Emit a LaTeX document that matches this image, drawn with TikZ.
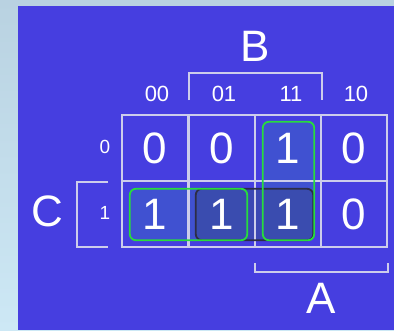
\documentclass[tikz,border=0pt]{standalone}
\usepackage{fontspec}
\setmainfont{Liberation Sans}
\usepackage{tikz}
\usetikzlibrary{positioning,fit}

\definecolor{kback}{RGB}{70,62,224}
\definecolor{kgrid}{RGB}{205,205,235}
\definecolor{kgreen}{RGB}{40,220,60}
\definecolor{kfill}{RGB}{62,88,205}
\definecolor{kdark}{RGB}{45,45,70}

\begin{document}
\begin{tikzpicture}[
  x=1pt, y=-1pt,
  cell/.style={rectangle, draw=kgrid, line width=2.4pt, minimum size=66pt, inner sep=0pt, text=white, font=\fontsize{44}{44}\selectfont},
  collabel/.style={text=white, font=\fontsize{22}{22}\selectfont},
  rowlabel/.style={text=white, font=\fontsize{19}{19}\selectfont},
  varlabel/.style={text=white, font=\fontsize{44}{44}\selectfont},
  bracket/.style={draw=kgrid, line width=2.4pt},
  group/.style={rectangle, rounded corners=6pt, fill=kfill, fill opacity=0.75, inner sep=0pt},
  darkgroup/.style={group, fill=kdark!30!kfill},
  outline/.style={rounded corners=6pt, line width=1.8pt, draw=kgreen},
]
  % background
  \shade[top color={rgb,255:red,185;green,210;blue,225}, bottom color={rgb,255:red,205;green,232;blue,245}] (0,0) rectangle (394,330);
  \fill[kback] (18,6) rectangle (394,330);
  \useasboundingbox (0,0) rectangle (394,330);

  % group fills
  \node[group, minimum width=51pt, minimum height=118pt] (g1) at (288.5,181) {};
  \node[group, minimum width=117pt, minimum height=51pt] (g2) at (188.5,214.5) {};
  \node[darkgroup, minimum width=117pt, minimum height=51pt] (g3) at (254.5,214.5) {};

  % map cells
  \node[cell] (c0-00) at (155,148) {0};
  \node[cell] (c0-01) at (222,148) {0};
  \node[cell] (c0-11) at (288,148) {1};
  \node[cell] (c0-10) at (354,148) {0};
  \node[cell] (c1-00) at (155,214) {1};
  \node[cell] (c1-01) at (222,214) {1};
  \node[cell] (c1-11) at (288,214) {1};
  \node[cell] (c1-10) at (354,214) {0};

  % group outlines
  \draw[outline, draw=kdark] (g3.south west) rectangle (g3.north east);
  \draw[outline] (g2.south west) rectangle (g2.north east);
  \draw[outline] (g1.south west) rectangle (g1.north east);

  % labels
  \node[collabel] (l00) at (157,94) {00};
  \node[collabel] (l01) at (224,94) {01};
  \node[collabel] (l11) at (291,94) {11};
  \node[collabel] (l10) at (356,94) {10};
  \node[rowlabel] (r0) at (105,147) {0};
  \node[rowlabel] (r1) at (105,213) {1};

  % brackets
  \coordinate (bl) at (189,100);
  \coordinate (br) at (322,100);
  \draw[bracket] (bl) -- ++(0,-27) -| (br);
  \node[varlabel] (varB) at (255,46) {B};

  \coordinate (ct) at (108,182);
  \coordinate (cb) at (108,247);
  \draw[bracket] (ct) -- ++(-31,0) |- (cb);
  \node[varlabel] (varC) at (47,211) {C};

  \coordinate (al) at (255,263);
  \coordinate (ar) at (388,263);
  \draw[bracket] (al) -- ++(0,9) -| (ar);
  \node[varlabel] (varA) at (321,298) {A};
\end{tikzpicture}
\end{document}
